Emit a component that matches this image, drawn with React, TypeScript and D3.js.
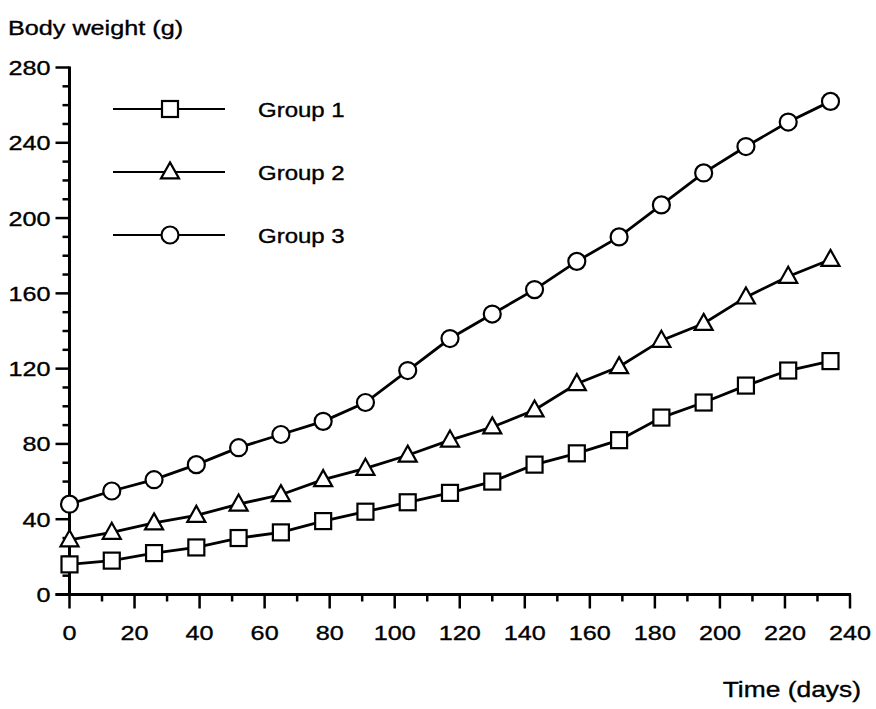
import * as d3 from 'd3';
import React from 'react';

// days of measurement (every 13 days)
const days = [0, 13, 26, 39, 52, 65, 78, 91, 104, 117, 130, 143, 156, 169, 182, 195, 208, 221, 234];

const group1 = [16, 18, 22, 25, 30, 33, 39, 44, 49, 54, 60, 69, 75, 82, 94, 102, 111, 119, 124];
const group2 = [29, 33, 38, 42, 48, 53, 61, 67, 74, 82, 89, 98, 112, 121, 135, 144, 158, 169, 178];
const group3 = [48, 55, 61, 69, 78, 85, 92, 102, 119, 136, 149, 162, 177, 190, 207, 224, 238, 251, 262];

const seriesNames = ['Group 1', 'Group 2', 'Group 3'];
const xTicks = [0, 20, 40, 60, 80, 100, 120, 140, 160, 180, 200, 220, 240];
const yTicks = [0, 40, 80, 120, 160, 200, 240, 280];

const W = 876;
const H = 709;
const FONT = 'Liberation Sans, Arial, Helvetica, sans-serif';
const SX = 1.2; // the original lettering is a bit wide

function Label({ x, y, size, anchor, children }: any) {
  return (
    <text transform={`translate(${x},${y}) scale(${SX},1)`} fontSize={size} textAnchor={anchor || 'start'}
      stroke="#000" strokeWidth={0.35}>{children}</text>
  );
}

function Marker({ kind, cx, cy }: { kind: string; cx: number; cy: number }) {
  const s = 8;
  if (kind === 'square') {
    return <rect x={cx - s} y={cy - s} width={2 * s} height={2 * s} fill="#fff" stroke="#000" strokeWidth={2.2} />;
  }
  if (kind === 'triangle') {
    const h = 16;
    const p = `M${cx},${cy - h * 0.6}L${cx + 9},${cy + h * 0.4}L${cx - 9},${cy + h * 0.4}Z`;
    return <path d={p} fill="#fff" stroke="#000" strokeWidth={2.2} />;
  }
  return <circle cx={cx} cy={cy} r={8.5} fill="#fff" stroke="#000" strokeWidth={2.2} />;
}

export default function App() {
  const x = d3.scaleLinear().domain([0, 240]).range([69.5, 850]);
  const y = d3.scaleLinear().domain([0, 280]).range([594.5, 67.5]);

  const line = d3.line<number>()
    .x((_, i) => x(days[i]))
    .y(d => y(d));

  const series = [
    { name: seriesNames[0], values: group1, kind: 'square' },
    { name: seriesNames[1], values: group2, kind: 'triangle' },
    { name: seriesNames[2], values: group3, kind: 'circle' },
  ];

  const xMinor = d3.range(10, 240, 20);
  const yMinor = d3.range(10, 280, 10).filter(v => v % 40 !== 0);

  const legendY = [109, 172, 235];

  return (
    <svg width={W} height={H} style={{ position: 'absolute', left: 0, top: 0, background: '#fff' }}
      fontFamily={FONT}>
      <rect width={W} height={H} fill="#fff" />

      <Label x={8} y={35} size={21}>Body weight (g)</Label>
      <Label x={861} y={697} size={22} anchor="end">Time (days)</Label>

      {/* y axis */}
      <line x1={x(0)} x2={x(0)} y1={y(0)} y2={y(280) - 1} stroke="#000" strokeWidth={3} />
      {yTicks.map(t => (
        <g key={'y' + t}>
          <line x1={x(0) - 14} x2={x(0)} y1={y(t)} y2={y(t)} stroke="#000" strokeWidth={2.5} />
          <Label x={x(0) - 19} y={y(t) + 7.5} size={21} anchor="end">{t}</Label>
        </g>
      ))}
      {yMinor.map(t => (
        <line key={'ym' + t} x1={x(0) - 7} x2={x(0)} y1={y(t)} y2={y(t)} stroke="#000" strokeWidth={2.5} />
      ))}

      {/* x axis */}
      <line x1={x(0) - 14} x2={x(240) + 1} y1={y(0)} y2={y(0)} stroke="#000" strokeWidth={3} />
      {xTicks.map(t => (
        <g key={'x' + t}>
          <line x1={x(t)} x2={x(t)} y1={y(0)} y2={y(0) + 14} stroke="#000" strokeWidth={2.5} />
          <Label x={x(t)} y={y(0) + 45} size={21} anchor="middle">{t}</Label>
        </g>
      ))}
      {xMinor.map(t => (
        <line key={'xm' + t} x1={x(t)} x2={x(t)} y1={y(0)} y2={y(0) + 7} stroke="#000" strokeWidth={2.5} />
      ))}

      {/* series */}
      {series.map(s => (
        <g key={s.name}>
          <path d={line(s.values) || ''} fill="none" stroke="#000" strokeWidth={2.8} />
          {s.values.map((v, i) => (
            <Marker key={i} kind={s.kind} cx={x(days[i])} cy={y(v)} />
          ))}
        </g>
      ))}

      {/* legend */}
      {series.map((s, i) => (
        <g key={'lg' + s.name}>
          <line x1={113} x2={225} y1={legendY[i]} y2={legendY[i]} stroke="#000" strokeWidth={2} />
          <Marker kind={s.kind} cx={170} cy={legendY[i]} />
          <Label x={258} y={legendY[i] + 7.5} size={20}>{s.name}</Label>
        </g>
      ))}
    </svg>
  );
}
